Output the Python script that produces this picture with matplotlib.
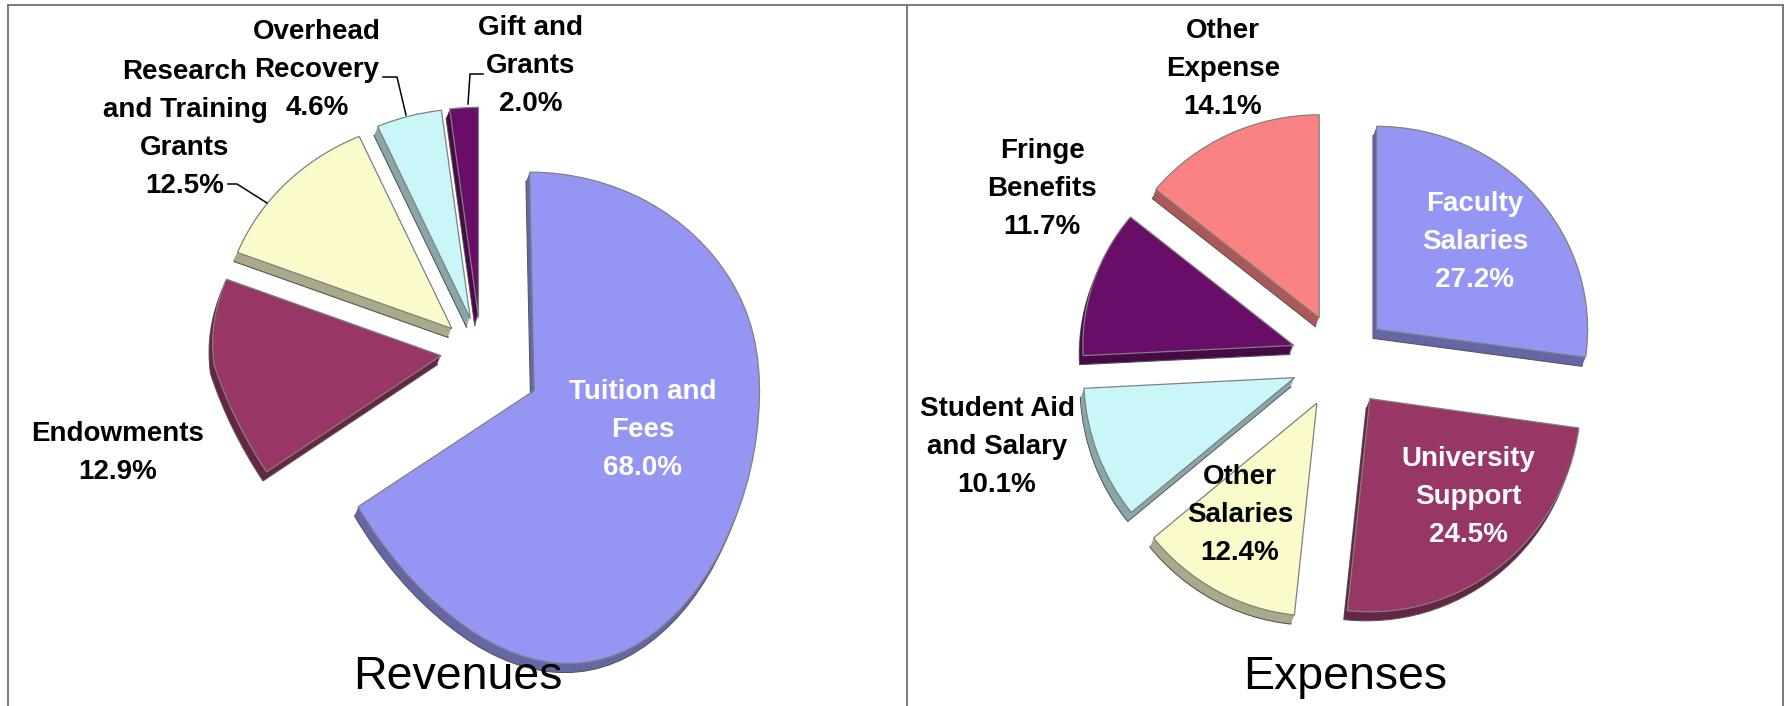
import matplotlib
matplotlib.use("Agg")
import matplotlib.pyplot as plt
import numpy as np
from matplotlib.colors import to_rgb
from matplotlib.transforms import Affine2D, Transform

plt.rcParams["font.family"] = ["Liberation Sans", "DejaVu Sans"]

# --- data -------------------------------------------------------------------
rev_labels = ["Tuition and\nFees", "Endowments", "Research\nand Training\nGrants",
              "Overhead\nRecovery", "Gift and\nGrants"]
rev_values = [68.0, 12.9, 12.5, 4.6, 2.0]
rev_colors = ["#9596F4", "#983666", "#FAFACB", "#C9F6F8", "#680E68"]
rev_text_colors = ["white", "black", "black", "black", "black"]

exp_labels = ["Faculty\nSalaries", "University\nSupport", "Other\nSalaries",
              "Student Aid\nand Salary", "Fringe\nBenefits", "Other\nExpense"]
exp_values = [27.2, 24.5, 12.4, 10.1, 11.7, 14.1]
exp_colors = ["#9596F4", "#983666", "#FAFACB", "#C9F6F8", "#680E68", "#FA8282"]
exp_text_colors = ["white", "white", "black", "black", "black", "black"]

# --- layout (pixels, origin top-left) ---------------------------------------
W, H = 1789, 706
rev_layout = dict(cx=481, cy=354, sx=230, sy=210, stretch=1.3, narrow=0.15, shear=0.18,
                  explode=[0.25, 0.175, 0.175, 0.175, 0.175])
exp_layout = dict(cx=1340, cy=360, sx=211, sy=203, stretch=1.05, narrow=0.0, shear=0.0,
                  explode=[0.23] * 6)
rev_label_pos = [(643, 430), (118, 453), (185, 129), (317, 70), (531, 66)]
exp_label_pos = [(1475, 242), (1468, 497), (1240, 515), (997, 447), (1042, 189), (1223, 69)]
rev_leaders = [[(228, 184), (237, 184), (267, 203)],
               [(383, 77), (397, 77), (406, 115)],
               [(483, 74), (470, 74), (468, 104)]]


class Tilt(Transform):
    """Rough stand-in for the 3D view: the front (lower) half is stretched."""
    input_dims = output_dims = 2

    def __init__(self, stretch, narrow, shear):
        super().__init__()
        self.stretch, self.narrow, self.shear = stretch, narrow, shear

    def transform_non_affine(self, values):
        xy = np.asarray(values, float)
        x, y = xy[:, 0], xy[:, 1]
        neg = np.minimum(y, 0)
        return np.column_stack([x * (1 + self.narrow * neg) - self.shear * neg,
                                np.where(y < 0, y * self.stretch, y)])


def draw_pie(fig, values, colors, cx, cy, sx, sy, stretch, narrow, shear, explode, depth=9):
    ax = fig.add_axes([0, 0, 1, 1])
    ax.patch.set_alpha(0)
    tilt = Tilt(stretch, narrow, shear)

    dark = [tuple(c * 0.68 for c in to_rgb(col)) for col in colors]
    for i in range(depth, 0, -1):
        wedges, _ = ax.pie(values, explode=explode, colors=dark, startangle=90,
                           counterclock=False,
                           wedgeprops=dict(linewidth=0.8 if i == depth else 0,
                                           edgecolor="#555555"))
        for w in wedges:
            w.set_transform(tilt + ax.transData + Affine2D().translate(-0.4 * i, -i))

    wedges, _ = ax.pie(values, explode=explode, colors=colors, startangle=90,
                       counterclock=False,
                       wedgeprops=dict(linewidth=0.9, edgecolor="#808080"))
    for w in wedges:
        w.set_transform(tilt + ax.transData)

    ax.set_aspect("auto")
    ax.set_xlim(-cx / sx, (W - cx) / sx)
    ax.set_ylim(-(H - cy) / sy, cy / sy)
    ax.set_axis_off()
    return ax


fig = plt.figure(figsize=(W / 100, H / 100), dpi=100)
fig.patch.set_facecolor("white")

draw_pie(fig, rev_values, rev_colors, **rev_layout)
draw_pie(fig, exp_values, exp_colors, **exp_layout)

ov = fig.add_axes([0, 0, 1, 1])
ov.patch.set_alpha(0)
ov.set_xlim(0, W)
ov.set_ylim(H, 0)
ov.set_axis_off()

# panel borders
border = dict(color="#707070", lw=1.3)
ov.plot([8, 1783], [5, 5], **border)
ov.plot([8, 8], [5, H], **border)
ov.plot([907, 907], [5, H], **border)
ov.plot([1783, 1783], [5, H], **border)

for lab, val, tc, (x, y) in zip(rev_labels, rev_values, rev_text_colors, rev_label_pos):
    ov.text(x, y, f"{lab}\n{val:.1f}%", ha="center", va="center", ma="center",
            fontsize=20, fontweight="bold", color=tc, linespacing=1.6)
for lab, val, tc, (x, y) in zip(exp_labels, exp_values, exp_text_colors, exp_label_pos):
    ov.text(x, y, f"{lab}\n{val:.1f}%", ha="center", va="center", ma="center",
            fontsize=20, fontweight="bold", color=tc, linespacing=1.6)

for pts in rev_leaders:
    xs, ys = zip(*pts)
    ov.plot(xs, ys, color="black", lw=1.1)

ov.text(458, 689, "Revenues", ha="center", va="baseline", fontsize=33.5)
ov.text(1345, 689, "Expenses", ha="center", va="baseline", fontsize=33.5)

fig.savefig("out.png", dpi=100)
